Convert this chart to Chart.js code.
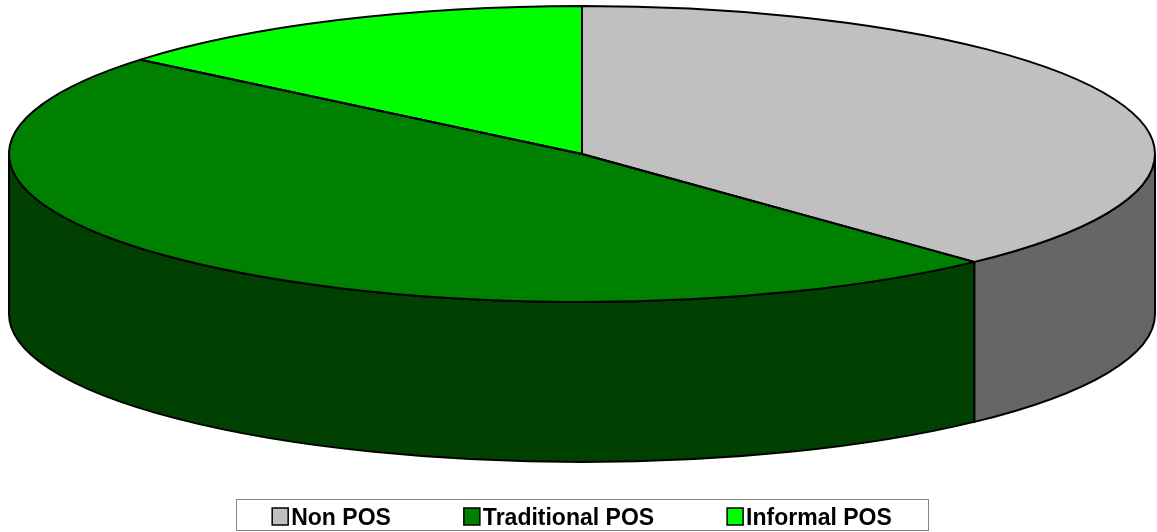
<!doctype html>
<html>
<head>
<title>POS share</title>
<script src="https://cdn.jsdelivr.net/npm/chart.js@4"></script>
<style>
  body { margin: 0; background: #fff; }
</style>
</head>
<body>
<canvas id="posPie" width="1157" height="532"></canvas>
<script>
var categories = ["Non POS", "Traditional POS", "Informal POS"];
var shares = [38, 48, 14];
var topColors = ["#C0C0C0", "#008000", "#00FF00"];
var sideColors = ["#666666", "#004000", "#00A000"];

// look of the fake 3d disc
var tilt = 148 / 573;   // vertical squash of the top face
var depth = 160;        // height of the side wall
var faceY = 154;        // centre of the top face

var pie3d = {
  id: 'pie3d',
  beforeDatasetsDraw: function(chart) {
    var ctx = chart.ctx;
    var arcs = chart.getDatasetMeta(0).data;
    var cx = arcs[0].x, rx = arcs[0].outerRadius, ry = rx * tilt;
    ctx.save();
    ctx.lineWidth = 2;
    ctx.strokeStyle = '#000';
    arcs.forEach(function(arc, i) {
      // only the front half of the wall can be seen
      var a = Math.max(arc.startAngle, 0), b = Math.min(arc.endAngle, Math.PI);
      if (b <= a) return;
      ctx.beginPath();
      ctx.ellipse(cx, faceY, rx, ry, 0, a, b);
      ctx.ellipse(cx, faceY + depth, rx, ry, 0, b, a, true);
      ctx.closePath();
      ctx.fillStyle = sideColors[i];
      ctx.fill();
      ctx.stroke();
    });
    ctx.restore();
    // squash the library's arcs into the top face
    ctx.save();
    ctx.translate(0, faceY);
    ctx.scale(1, tilt);
    ctx.translate(0, -arcs[0].y);
  },
  afterDatasetsDraw: function(chart) {
    var ctx = chart.ctx;
    ctx.restore();
    var arcs = chart.getDatasetMeta(0).data;
    var cx = arcs[0].x, rx = arcs[0].outerRadius, ry = rx * tilt;
    ctx.save();
    ctx.lineWidth = 2;
    ctx.strokeStyle = '#000';
    ctx.lineJoin = 'round';
    arcs.forEach(function(arc) {
      ctx.beginPath();
      ctx.moveTo(cx, faceY);
      ctx.ellipse(cx, faceY, rx, ry, 0, arc.startAngle, arc.endAngle);
      ctx.closePath();
      ctx.stroke();
    });
    ctx.restore();
  }
};

var legendBox = {
  id: 'legendBox',
  afterDraw: function(chart) {
    var ctx = chart.ctx;
    ctx.save();
    ctx.font = 'bold 23px "Liberation Sans", Arial, sans-serif';
    var sq = 16, gapText = 3, gapItem = 73, padX = 36;
    var widths = categories.map(function(t) { return sq + gapText + ctx.measureText(t).width; });
    var total = widths.reduce(function(s, w) { return s + w; }, 0) + gapItem * (widths.length - 1);
    var mid = (chart.chartArea.left + chart.chartArea.right) / 2;
    var x = mid - total / 2;

    ctx.strokeStyle = '#888';
    ctx.lineWidth = 1;
    ctx.strokeRect(Math.round(x - padX) + 0.5, 499.5, Math.round(total + 2 * padX), 31);

    ctx.textBaseline = 'alphabetic';
    ctx.textAlign = 'left';
    categories.forEach(function(t, i) {
      ctx.fillStyle = topColors[i];
      ctx.fillRect(x, 508, sq, 17);
      ctx.lineWidth = 1.5;
      ctx.strokeStyle = '#000';
      ctx.strokeRect(x, 508, sq, 17);
      ctx.fillStyle = '#000';
      ctx.fillText(t, x + sq + gapText, 525);
      x += widths[i] + gapItem;
    });
    ctx.restore();
  }
};

var ctx = document.getElementById("posPie").getContext("2d");
var posChart = new Chart(ctx, {
  type: 'pie',
  data: {
    labels: categories,
    datasets: [{
      data: shares,
      backgroundColor: topColors,
      borderWidth: 0,
      radius: 573,
      clip: false
    }]
  },
  options: {
    responsive: false,
    animation: false,
    layout: { padding: { left: 7, bottom: 40 } },
    plugins: {
      legend: { display: false },
      tooltip: { enabled: false }
    }
  },
  plugins: [pie3d, legendBox]
});
</script>
</body>
</html>
